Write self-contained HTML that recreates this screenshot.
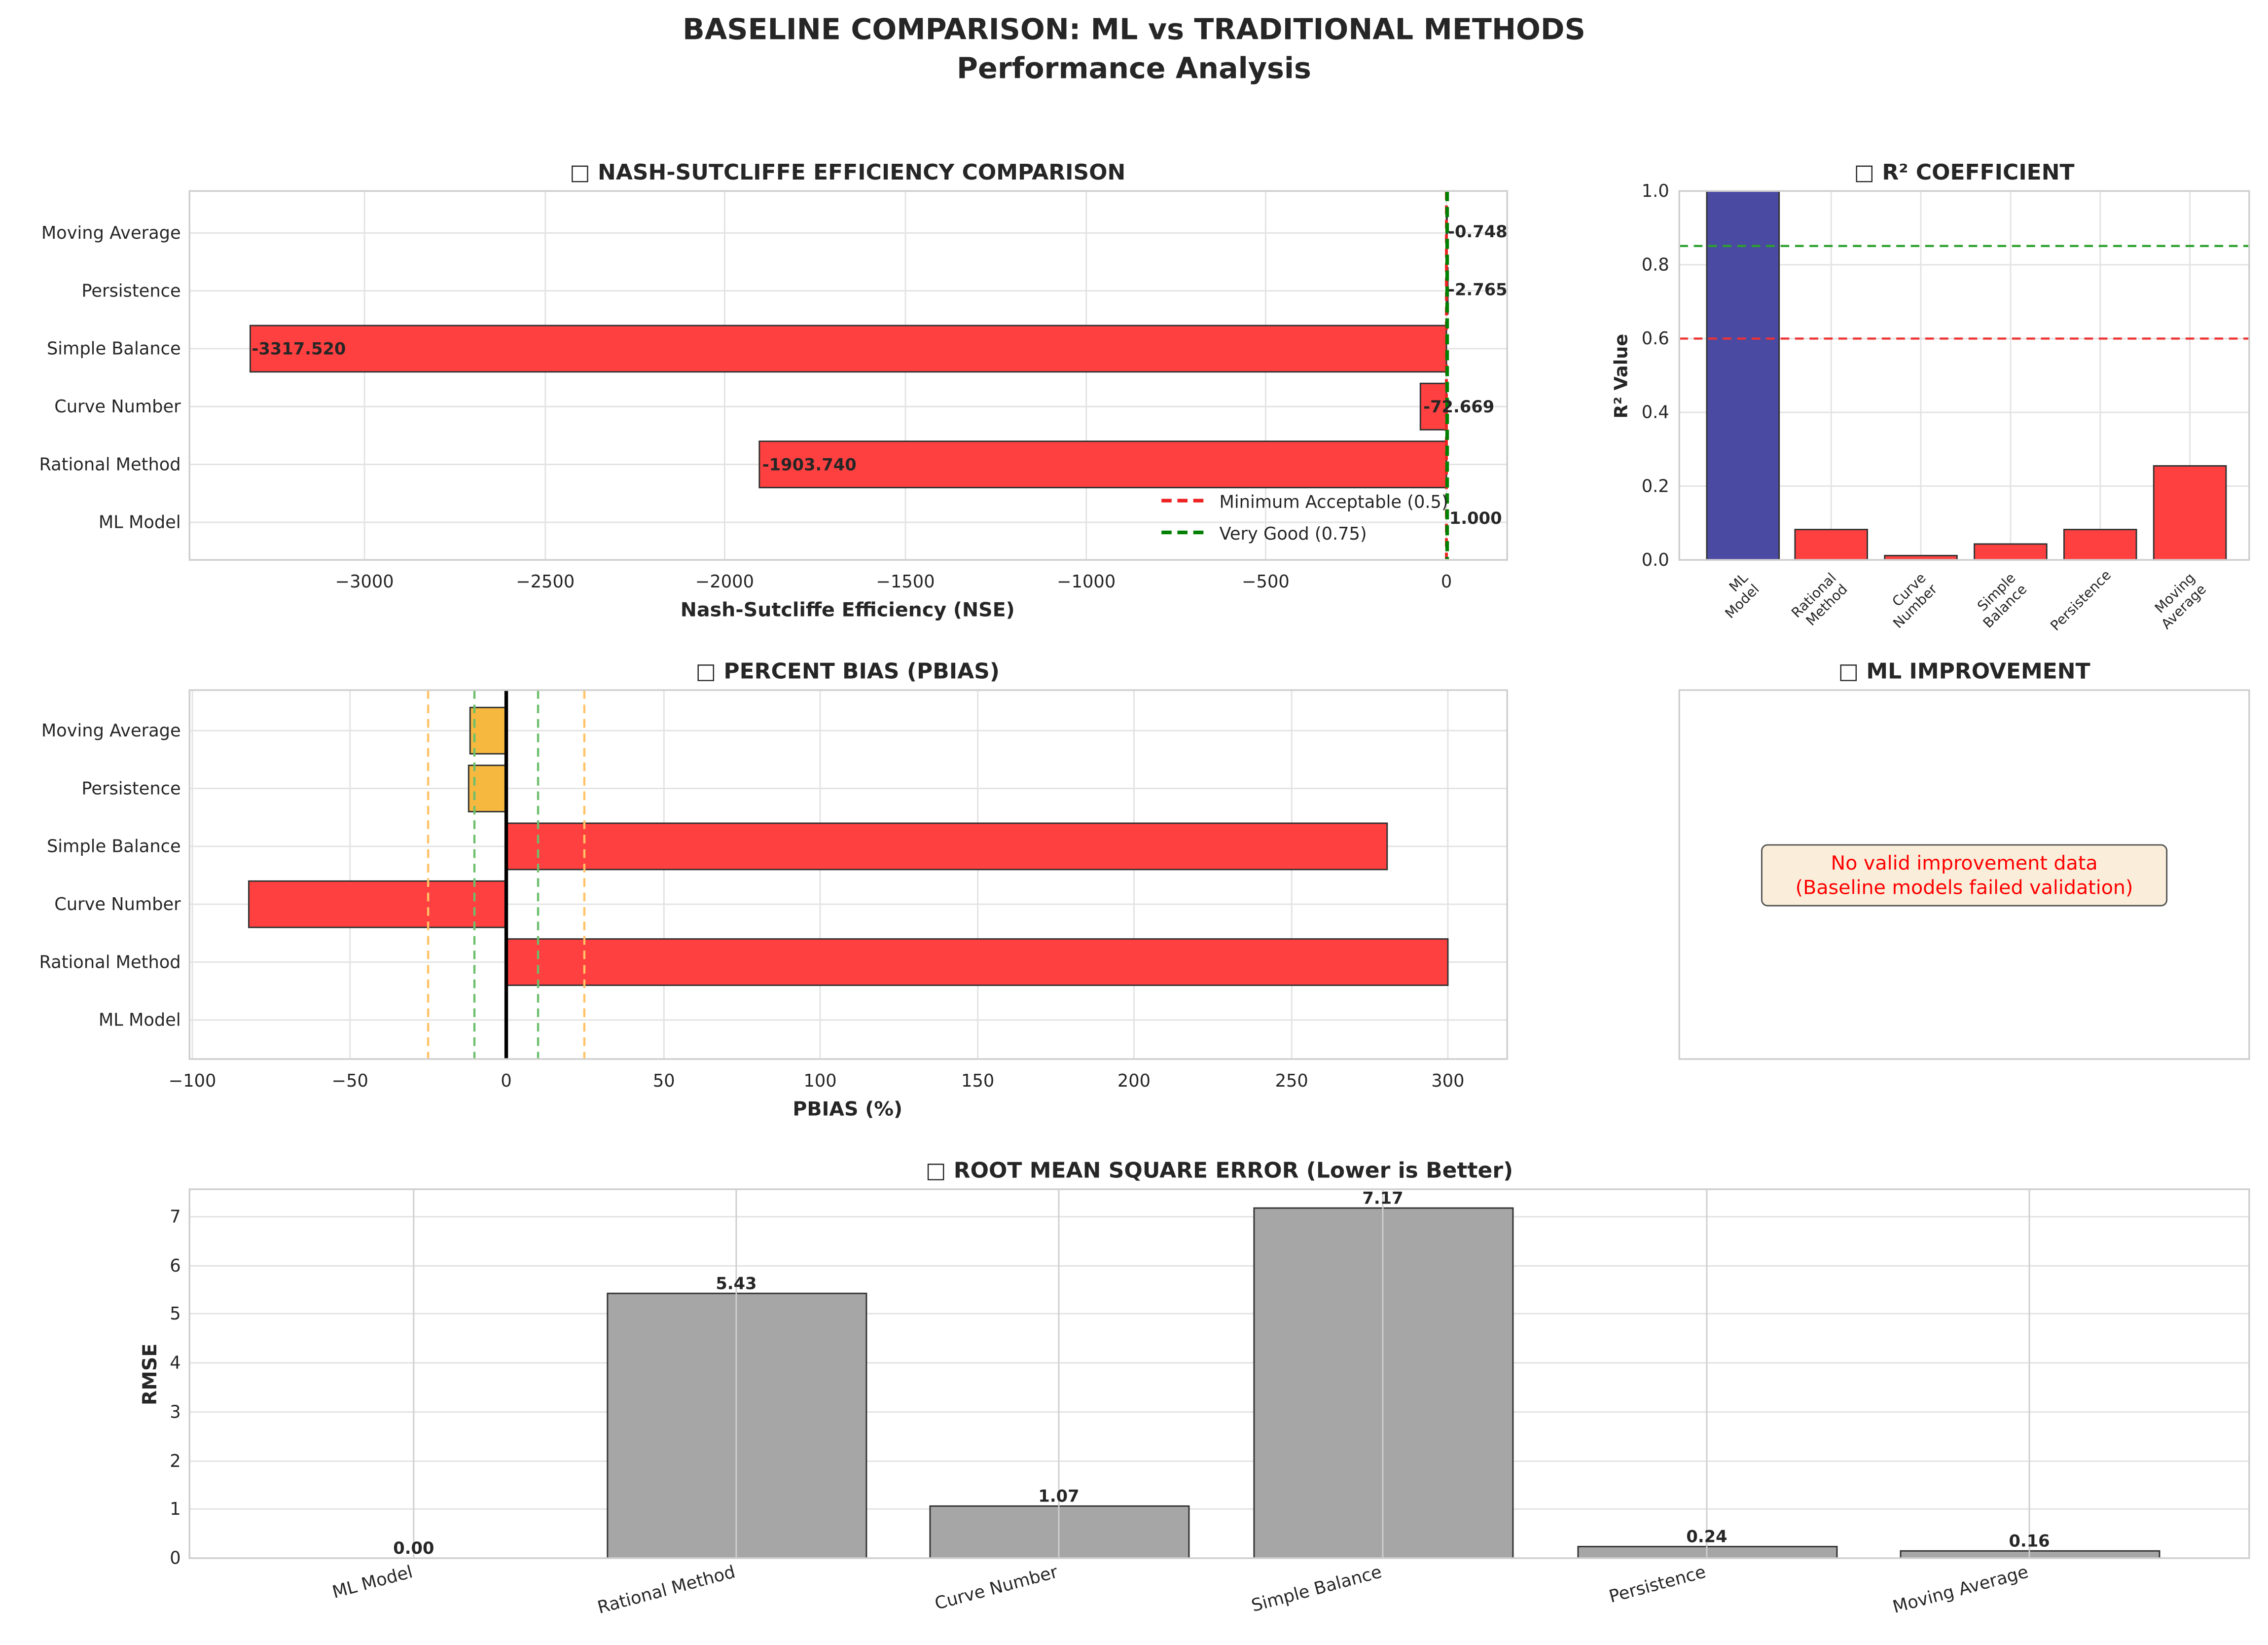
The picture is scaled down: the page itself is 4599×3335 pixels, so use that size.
<!DOCTYPE html>
<html><head><meta charset="utf-8"><style>
html,body{margin:0;padding:0;background:#fff;}
svg{display:block;}
text{font-family:"DejaVu Sans","Liberation Sans",sans-serif;fill:#262626;}
.t{font-weight:bold;font-size:15px;}
.tk{font-size:12px;}
.lb{font-size:11.5px;font-weight:bold;fill:#1a1a1a;}
.g{stroke:#e3e3e3;stroke-width:1;}
.ax{fill:none;stroke:#cfcfcf;stroke-width:1.2;}
</style></head><body>
<svg width="4599" height="3335" viewBox="0 0 1568 1137" xmlns="http://www.w3.org/2000/svg">
<rect width="1568" height="1137" fill="#fff"/>
<text x="784" y="27" text-anchor="middle" style="font-weight:bold;font-size:20px">BASELINE COMPARISON: ML vs TRADITIONAL METHODS</text>
<text x="784" y="54" text-anchor="middle" style="font-weight:bold;font-size:20px">Performance Analysis</text>

<g>
<text x="586" y="124" text-anchor="middle" class="t">□ NASH-SUTCLIFFE EFFICIENCY COMPARISON</text>
<g class="g">
<line x1="252" y1="132" x2="252" y2="387"/><line x1="377" y1="132" x2="377" y2="387"/><line x1="501" y1="132" x2="501" y2="387"/><line x1="626" y1="132" x2="626" y2="387"/><line x1="751" y1="132" x2="751" y2="387"/><line x1="875" y1="132" x2="875" y2="387"/><line x1="1000" y1="132" x2="1000" y2="387"/>
<line x1="131" y1="161" x2="1042" y2="161"/><line x1="131" y1="201" x2="1042" y2="201"/><line x1="131" y1="241" x2="1042" y2="241"/><line x1="131" y1="281" x2="1042" y2="281"/><line x1="131" y1="321" x2="1042" y2="321"/><line x1="131" y1="361" x2="1042" y2="361"/>
</g>
<g fill="#ff4040" stroke="#333" stroke-width="1">
<rect x="173" y="225" width="827" height="32"/>
<rect x="982" y="265" width="18" height="32"/>
<rect x="525" y="305" width="475" height="32"/>
<rect x="1000" y="145" width="0.5" height="32"/>
<rect x="1000" y="185" width="1" height="32"/>
</g>
<line x1="1000" y1="132" x2="1000" y2="387" stroke="#ee2222" stroke-width="2" stroke-dasharray="6,4"/>
<line x1="1000.5" y1="132" x2="1000.5" y2="387" stroke="#008000" stroke-width="2.5" stroke-dasharray="7,4"/>
<rect class="ax" x="131" y="132" width="911" height="255"/>
<g class="tk" text-anchor="end">
<text x="125" y="165">Moving Average</text><text x="125" y="205">Persistence</text><text x="125" y="245">Simple Balance</text><text x="125" y="285">Curve Number</text><text x="125" y="325">Rational Method</text><text x="125" y="365">ML Model</text>
</g>
<g class="tk" text-anchor="middle">
<text x="252" y="406">−3000</text><text x="377" y="406">−2500</text><text x="501" y="406">−2000</text><text x="626" y="406">−1500</text><text x="751" y="406">−1000</text><text x="875" y="406">−500</text><text x="1000" y="406">0</text>
</g>
<text x="586" y="426" text-anchor="middle" style="font-weight:bold;font-size:13.5px">Nash-Sutcliffe Efficiency (NSE)</text>
<g class="lb">
<text x="1001" y="164">-0.748</text><text x="1001" y="204">-2.765</text><text x="174" y="245">-3317.520</text><text x="984" y="285">-72.669</text><text x="527" y="325">-1903.740</text><text x="1002" y="362">1.000</text>
</g>
<line x1="803" y1="346" x2="832" y2="346" stroke="#ee2222" stroke-width="2.5" stroke-dasharray="7,4"/>
<text x="843" y="351" class="tk">Minimum Acceptable (0.5)</text>
<line x1="803" y1="368" x2="832" y2="368" stroke="#008000" stroke-width="2.5" stroke-dasharray="7,4"/>
<text x="843" y="373" class="tk">Very Good (0.75)</text>
</g>

<g>
<text x="1358" y="124" text-anchor="middle" class="t">□ R² COEFFICIENT</text>
<g class="g">
<line x1="1161" y1="336" x2="1555" y2="336"/><line x1="1161" y1="285" x2="1555" y2="285"/><line x1="1161" y1="234" x2="1555" y2="234"/><line x1="1161" y1="183" x2="1555" y2="183"/>
<line x1="1205" y1="132" x2="1205" y2="387"/><line x1="1266" y1="132" x2="1266" y2="387"/><line x1="1328" y1="132" x2="1328" y2="387"/><line x1="1390" y1="132" x2="1390" y2="387"/><line x1="1452" y1="132" x2="1452" y2="387"/><line x1="1514" y1="132" x2="1514" y2="387"/>
</g>
<g stroke="#333" stroke-width="1">
<rect x="1180" y="132" width="50" height="255" fill="#4a4aa3"/>
<rect x="1241" y="366" width="50" height="21" fill="#ff4040"/>
<rect x="1303" y="384" width="50" height="3" fill="#ff4040"/>
<rect x="1365" y="376" width="50" height="11" fill="#ff4040"/>
<rect x="1427" y="366" width="50" height="21" fill="#ff4040"/>
<rect x="1489" y="322" width="50" height="65" fill="#ff4040"/>
</g>
<line x1="1161" y1="234" x2="1555" y2="234" stroke="#ee3333" stroke-width="1.5" stroke-dasharray="6,4"/>
<line x1="1161" y1="170" x2="1555" y2="170" stroke="#2ca02c" stroke-width="1.5" stroke-dasharray="6,4"/>
<rect class="ax" x="1161" y="132" width="394" height="255"/>
<g class="tk" text-anchor="end">
<text x="1154" y="391">0.0</text><text x="1154" y="340">0.2</text><text x="1154" y="289">0.4</text><text x="1154" y="238">0.6</text><text x="1154" y="187">0.8</text><text x="1154" y="136">1.0</text>
</g>
<text transform="translate(1125,260) rotate(-90)" text-anchor="middle" style="font-weight:bold;font-size:12.5px">R² Value</text>
<g style="font-size:9.5px" text-anchor="end">
<text transform="translate(1209,400) rotate(-45)"><tspan x="0">ML</tspan><tspan x="0" dy="11">Model</tspan></text>
<text transform="translate(1270,400) rotate(-45)"><tspan x="0">Rational</tspan><tspan x="0" dy="11">Method</tspan></text>
<text transform="translate(1332,400) rotate(-45)"><tspan x="0">Curve</tspan><tspan x="0" dy="11">Number</tspan></text>
<text transform="translate(1394,400) rotate(-45)"><tspan x="0">Simple</tspan><tspan x="0" dy="11">Balance</tspan></text>
<text transform="translate(1460,398) rotate(-45)">Persistence</text>
<text transform="translate(1518,400) rotate(-45)"><tspan x="0">Moving</tspan><tspan x="0" dy="11">Average</tspan></text>
</g>
</g>

<g>
<text x="586" y="469" text-anchor="middle" class="t">□ PERCENT BIAS (PBIAS)</text>
<g class="g">
<line x1="133" y1="477" x2="133" y2="732"/><line x1="242" y1="477" x2="242" y2="732"/><line x1="350" y1="477" x2="350" y2="732"/><line x1="459" y1="477" x2="459" y2="732"/><line x1="567" y1="477" x2="567" y2="732"/><line x1="676" y1="477" x2="676" y2="732"/><line x1="784" y1="477" x2="784" y2="732"/><line x1="893" y1="477" x2="893" y2="732"/><line x1="1001" y1="477" x2="1001" y2="732"/>
<line x1="131" y1="505" x2="1042" y2="505"/><line x1="131" y1="545" x2="1042" y2="545"/><line x1="131" y1="585" x2="1042" y2="585"/><line x1="131" y1="625" x2="1042" y2="625"/><line x1="131" y1="665" x2="1042" y2="665"/><line x1="131" y1="705" x2="1042" y2="705"/>
</g>
<g stroke="#333" stroke-width="1">
<rect x="325" y="489" width="25" height="32" fill="#f7b83f"/>
<rect x="324" y="529" width="26" height="32" fill="#f7b83f"/>
<rect x="350" y="569" width="609" height="32" fill="#ff4040"/>
<rect x="172" y="609" width="178" height="32" fill="#ff4040"/>
<rect x="350" y="649" width="651" height="32" fill="#ff4040"/>
</g>
<line x1="350" y1="477" x2="350" y2="732" stroke="#000" stroke-width="2.5"/>
<g stroke-width="1.5" stroke-dasharray="6,4">
<line x1="328" y1="477" x2="328" y2="732" stroke="#6cbf6c"/><line x1="372" y1="477" x2="372" y2="732" stroke="#6cbf6c"/>
<line x1="296" y1="477" x2="296" y2="732" stroke="#ffc266"/><line x1="404" y1="477" x2="404" y2="732" stroke="#ffc266"/>
</g>
<rect class="ax" x="131" y="477" width="911" height="255"/>
<g class="tk" text-anchor="end">
<text x="125" y="509">Moving Average</text><text x="125" y="549">Persistence</text><text x="125" y="589">Simple Balance</text><text x="125" y="629">Curve Number</text><text x="125" y="669">Rational Method</text><text x="125" y="709">ML Model</text>
</g>
<g class="tk" text-anchor="middle">
<text x="133" y="751">−100</text><text x="242" y="751">−50</text><text x="350" y="751">0</text><text x="459" y="751">50</text><text x="567" y="751">100</text><text x="676" y="751">150</text><text x="784" y="751">200</text><text x="893" y="751">250</text><text x="1001" y="751">300</text>
</g>
<text x="586" y="771" text-anchor="middle" style="font-weight:bold;font-size:13.5px">PBIAS (%)</text>
</g>

<g>
<text x="1358" y="469" text-anchor="middle" class="t">□ ML IMPROVEMENT</text>
<rect class="ax" x="1161" y="477" width="394" height="255"/>
<rect x="1218" y="584" width="280" height="42" rx="4" fill="#faeeda" stroke="#555" stroke-width="1"/>
<text x="1358" y="601" text-anchor="middle" style="font-size:13.5px;fill:#ff0000">No valid improvement data</text>
<text x="1358" y="618" text-anchor="middle" style="font-size:13.5px;fill:#ff0000">(Baseline models failed validation)</text>
</g>

<g>
<text x="843" y="814" text-anchor="middle" class="t">□ ROOT MEAN SQUARE ERROR (Lower is Better)</text>
<g class="g">
<line x1="131" y1="1043" x2="1555" y2="1043"/><line x1="131" y1="1010" x2="1555" y2="1010"/><line x1="131" y1="976" x2="1555" y2="976"/><line x1="131" y1="942" x2="1555" y2="942"/><line x1="131" y1="908" x2="1555" y2="908"/><line x1="131" y1="875" x2="1555" y2="875"/><line x1="131" y1="841" x2="1555" y2="841"/>
</g>
<g fill="#a6a6a6" stroke="#333" stroke-width="1">
<rect x="420" y="894" width="179" height="183"/>
<rect x="643" y="1041" width="179" height="36"/>
<rect x="867" y="835" width="179" height="242"/>
<rect x="1091" y="1069" width="179" height="8"/>
<rect x="1314" y="1072" width="179" height="5"/>
</g>
<g stroke="#cfcfcf" stroke-width="1">
<line x1="286" y1="822" x2="286" y2="1077"/><line x1="509" y1="822" x2="509" y2="1077"/><line x1="732" y1="822" x2="732" y2="1077"/><line x1="956" y1="822" x2="956" y2="1077"/><line x1="1180" y1="822" x2="1180" y2="1077"/><line x1="1403" y1="822" x2="1403" y2="1077"/>
</g>
<rect class="ax" x="131" y="822" width="1424" height="255"/>
<g class="tk" text-anchor="end">
<text x="125" y="1081">0</text><text x="125" y="1047">1</text><text x="125" y="1014">2</text><text x="125" y="980">3</text><text x="125" y="946">4</text><text x="125" y="912">5</text><text x="125" y="879">6</text><text x="125" y="845">7</text>
</g>
<text transform="translate(108,950) rotate(-90)" text-anchor="middle" style="font-weight:bold;font-size:13.5px">RMSE</text>
<g class="lb" text-anchor="middle">
<text x="286" y="1074">0.00</text><text x="509" y="891">5.43</text><text x="732" y="1038">1.07</text><text x="956" y="832">7.17</text><text x="1180" y="1066">0.24</text><text x="1403" y="1069">0.16</text>
</g>
<g class="tk" text-anchor="end">
<text transform="translate(286,1090) rotate(-15)">ML Model</text>
<text transform="translate(509,1090) rotate(-15)">Rational Method</text>
<text transform="translate(732,1090) rotate(-15)">Curve Number</text>
<text transform="translate(956,1090) rotate(-15)">Simple Balance</text>
<text transform="translate(1180,1090) rotate(-15)">Persistence</text>
<text transform="translate(1403,1090) rotate(-15)">Moving Average</text>
</g>
</g>
</svg>
</body></html>
